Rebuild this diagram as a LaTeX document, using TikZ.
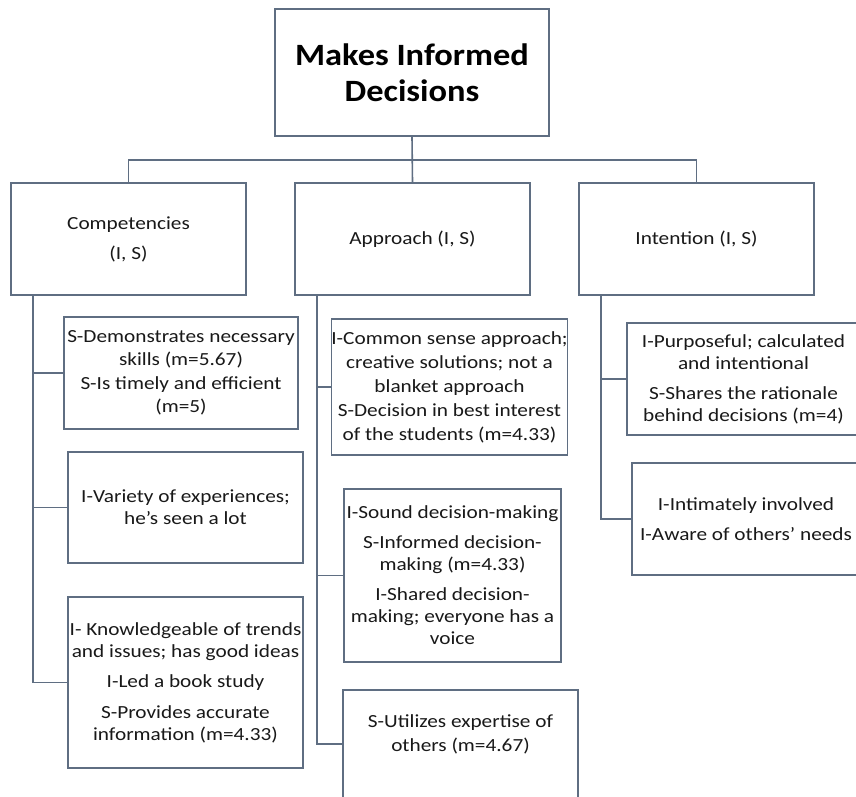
\documentclass[tikz,border=0pt]{standalone}
\usepackage{fontspec}
\setmainfont[FakeStretch=1.15]{Carlito}
\newfontfamily\titlefont[FakeStretch=1.11]{Carlito}
\definecolor{edge}{RGB}{95,110,130}
\definecolor{ink}{RGB}{25,25,25}
\begin{document}
\begin{tikzpicture}[x=1pt,y=-1pt,
  box/.style={draw=edge, line width=1.6pt, fill=white, align=center, inner sep=0pt,
    font=\fontsize{18.5}{22}\selectfont, text=ink},
  wire/.style={draw=edge, line width=1.6pt}]
\fill[white] (0,0) rectangle (856,797);
\useasboundingbox (0,0) rectangle (856,797);
\clip (0,0) rectangle (856,797);

% top
\node[box, minimum width=274pt, minimum height=127pt, text=black,
  font=\titlefont\bfseries\fontsize{31}{36}\selectfont] (title) at (412,72.5) {Makes Informed\\Decisions};

% level 2
\node[box, minimum width=235pt, minimum height=112pt] (comp) at (128.5,239) {Competencies\\[8pt](I, S)};
\node[box, minimum width=235pt, minimum height=112pt] (app) at (412.5,239) {Approach (I, S)};
\node[box, minimum width=235pt, minimum height=112pt] (int) at (696.5,239) {Intention (I, S)};

% competencies children
\node[box, minimum width=234pt, minimum height=112pt] (c1) at (181,373)
  {S-Demonstrates necessary\\[1.5pt]skills (m=5.67)\\[1.5pt]S-Is timely and efficient\\[1.5pt](m=5)};
\node[box, minimum width=235pt, minimum height=111pt] (c2) at (185.5,507.5)
  {I-Variety of experiences;\\he’s seen a lot};
\node[box, minimum width=235pt, minimum height=171pt] (c3) at (185.5,682.5)
  {I- Knowledgeable of trends\\and issues; has good ideas\\[8pt]I-Led a book study\\[9pt]S-Provides accurate\\information (m=4.33)};

% approach children
\node[box, minimum width=235pt, minimum height=136pt] (a1) at (449.5,387)
  {I-Common sense approach;\\[2pt]creative solutions; not a\\[2pt]blanket approach\\[2pt]S-Decision in best interest\\[2pt]of the students (m=4.33)};
\node[box, minimum width=217pt, minimum height=173pt] (a2) at (452.5,575.5)
  {I-Sound decision-making\\[8pt]S-Informed decision-\\making (m=4.33)\\[8pt]I-Shared decision-\\making; everyone has a\\voice};
\node[box, minimum width=235pt, minimum height=120pt] (a3) at (460.5,750)
  {S-Utilizes expertise of\\[2pt]others (m=4.67)\rule[-33pt]{0pt}{0pt}};

% intention children
\node[box, minimum width=233pt, minimum height=112pt] (i1) at (743.5,379)
  {I-Purposeful; calculated\\and intentional\\[8pt]S-Shares the rationale\\behind decisions (m=4)};
\node[box, minimum width=228pt, minimum height=112pt] (i2) at (746,519)
  {I-Intimately involved\\[8pt]I-Aware of others’ needs};

% connectors
\coordinate (bus) at (412,160);
\draw[wire] (title.south) -- (app.north);
\draw[wire] (comp.north) |- (bus) -| (int.north);

\coordinate (ct) at ([xshift=23pt]comp.south west);
\draw[wire] (ct) |- (c3.west);
\draw[wire] (ct |- c1.west) -- (c1.west);
\draw[wire] (ct |- c2.west) -- (c2.west);

\coordinate (at) at ([xshift=23pt]app.south west);
\coordinate (a3in) at ([yshift=-55pt]a3.north west);
\draw[wire] (at) |- (a3in);
\draw[wire] (at |- a1.west) -- (a1.west);
\draw[wire] (at |- a2.west) -- (a2.west);

\coordinate (it) at ([xshift=23pt]int.south west);
\draw[wire] (it) |- (i2.west);
\draw[wire] (it |- i1.west) -- (i1.west);
\end{tikzpicture}
\end{document}
